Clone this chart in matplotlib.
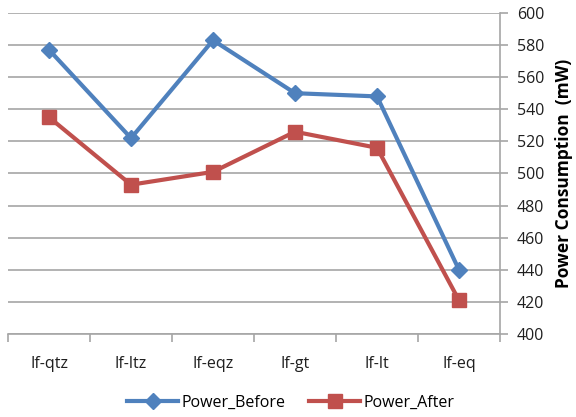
import numpy as np
import matplotlib
matplotlib.use("Agg")
import matplotlib.pyplot as plt

categories = ["If-qtz", "If-ltz", "If-eqz", "If-gt", "If-lt", "If-eq"]
power_before = [577, 522, 583, 550, 548, 440]
power_after = [535, 493, 501, 526, 516, 421]

plt.rcParams['font.family'] = ['Open Sans', 'DejaVu Sans']

fig = plt.figure(figsize=(5.76, 4.17), dpi=100)
ax = fig.add_axes([0.014, 0.199, 0.854, 0.770])

x = np.arange(len(categories))
ax.plot(x, power_before, color="#4F81BD", lw=3, marker="D", ms=8, label="Power_Before")
ax.plot(x, power_after, color="#C0504D", lw=3, marker="s", ms=10, label="Power_After")

ax.set_ylim(400, 600)
ax.set_yticks(np.arange(400, 601, 20))
ax.set_xlim(-0.5, len(categories) - 0.5)
ax.set_xticks(x)
ax.set_xticklabels(categories)
ax.set_xticks(np.arange(-0.5, len(categories), 1), minor=True)

ax.yaxis.tick_right()
ax.yaxis.set_label_position("right")
ax.set_ylabel("Power Consumption  (mW)", fontsize=12.5, fontweight="bold", labelpad=8)

ax.grid(axis="y", color="#A6A6A6", lw=1.2)
ax.set_axisbelow(True)
for s in ["top", "left"]:
    ax.spines[s].set_visible(False)
for s in ["bottom", "right"]:
    ax.spines[s].set_color("#A6A6A6")
    ax.spines[s].set_linewidth(1.2)

ax.tick_params(axis="x", which="major", length=0, pad=16, labelsize=11.5, labelcolor="#1F1F1F")
ax.tick_params(axis="x", which="minor", length=6, color="#A6A6A6", width=1.2)
ax.tick_params(axis="y", length=6, color="#A6A6A6", width=1.2, labelsize=11.5, pad=6, labelcolor="#1F1F1F")

fig.legend(loc="lower center", bbox_to_anchor=(0.505, -0.02), ncol=2, frameon=False,
           fontsize=11.5, handlelength=3.2, columnspacing=1.5, handletextpad=0.2)

fig.savefig("out.png", dpi=100)
